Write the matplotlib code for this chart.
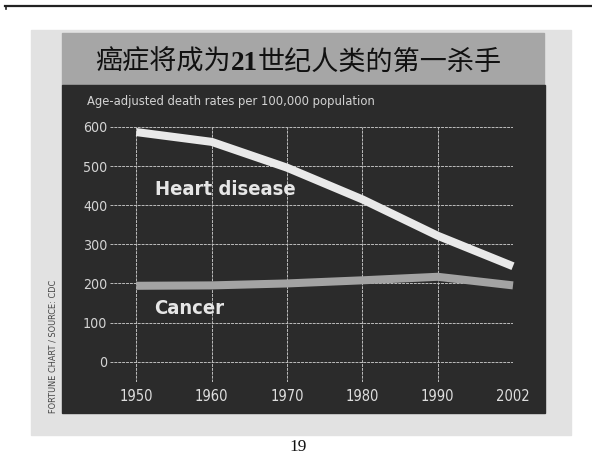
# Cancer vs heart disease death rates
# plot.py
#
##################################

# IMPORT STATEMENTS
##################################
import numpy as np
import matplotlib
matplotlib.use("Agg")
import matplotlib.pyplot as plt
from matplotlib import font_manager
from matplotlib.patches import Rectangle


# DATA
###################################
years  = ['1950', '1960', '1970', '1980', '1990', '2002']
heart  = [587, 562, 496, 415, 322, 244]
cancer = [194, 195, 200, 208, 217, 195]
yticks = [0, 100, 200, 300, 400, 500, 600]

title_a = '癌症将成为'
title_b = '21'
title_c = '世纪人类的第一杀手'
subtitle = 'Age-adjusted death rates per 100,000 population'
credit = 'FORTUNE CHART / SOURCE: CDC'
page_no = '19'

W, H = 592, 457


# function: pickNarrow
# purpose:  finds a condensed sans font that is installed
# return:   (family, stretch)
def pickNarrow():
    fonts = font_manager.fontManager.ttflist
    for f in fonts:
        if f.name == 'Liberation Sans Narrow':
            return f.name, 'normal'
    for fam in ['DejaVu Sans', 'Noto Sans', 'Roboto', 'Open Sans', 'Liberation Sans']:
        for f in fonts:
            if f.name == fam and 'condensed' in str(f.stretch):
                return fam, 'condensed'
    return 'Roboto', 'normal'

NARROW, STRETCH = pickNarrow()


# function: fx / fy
# purpose:  turn pixel coords (top-left origin) into figure fractions
def fx(x):
    return x / W

def fy(y):
    return 1 - y / H


# function: box
# purpose:  draws a filled rectangle given in pixel coords
def box(fig, x0, y0, x1, y1, color):
    fig.patches.append(Rectangle((fx(x0), fy(y1)), fx(x1) - fx(x0), fy(y0) - fy(y1),
                                 transform=fig.transFigure, color=color, zorder=-5))


# MAIN SCRIPT
###################################
fig = plt.figure(figsize=(W / 100, H / 100), dpi=100)
fig.patch.set_facecolor('white')

# page rule on top
fig.add_artist(plt.Line2D([fx(5), fx(592)], [fy(5.5), fy(5.5)], transform=fig.transFigure,
                          color='#222222', lw=1.6))
fig.add_artist(plt.Line2D([fx(5.5), fx(5.5)], [fy(5.5), fy(9)], transform=fig.transFigure,
                          color='#222222', lw=1.2))

# scanned page, title bar, dark chart panel
box(fig, 31, 30, 571, 435, '#e2e2e2')
box(fig, 62, 33, 544, 85, '#a6a6a6')
box(fig, 62, 85, 545, 413, '#2b2b2b')

# title: CJK pieces with a bold serif "21"
fig.canvas.draw()
r = fig.canvas.get_renderer()
x = 95
base = fy(70)
for s, fam, wt in [(title_a, ['Noto Sans CJK SC'], 'normal'),
                   (title_b, ['Liberation Serif'], 'bold'),
                   (title_c, ['Noto Sans CJK SC'], 'normal')]:
    t = fig.text(fx(x), base, s, family=fam, weight=wt, fontsize=19.5,
                 color='#111111', ha='left', va='baseline')
    x = x + t.get_window_extent(renderer=r).width

fig.text(fx(87), fy(101), subtitle, family=NARROW, stretch=STRETCH, fontsize=9.3,
         color='#d4d4d4', ha='left', va='center')
fig.text(fx(53), fy(413), credit, family=NARROW, stretch=STRETCH, fontsize=6.6,
         color='#444444', rotation=90, ha='center', va='bottom')
fig.text(fx(298), fy(447), page_no, family=['Liberation Serif'], fontsize=12.5,
         color='#111111', ha='center', va='center')

# chart axes
ax = fig.add_axes([fx(110), fy(382), fx(513) - fx(110), fy(127) - fy(382)])
ax.set_facecolor('none')
xs = np.arange(len(years))

ax.plot(xs, cancer, color='#a3a3a3', lw=5.8, solid_capstyle='butt', zorder=3, clip_on=False)
ax.plot(xs, heart, color='#e9e9e9', lw=5.8, solid_capstyle='butt', zorder=4, clip_on=False)

ax.set_xlim(-0.35, 5)
ax.set_ylim(-52, 600)
ax.set_xticks(xs)
ax.set_xticklabels(years)
ax.set_yticks(yticks)
ax.grid(True, color='#bdbdbd', lw=0.7, linestyle=(0, (3, 1)), zorder=1)
ax.set_axisbelow(True)
for sp in ax.spines.values():
    sp.set_visible(False)
ax.tick_params(axis='both', length=0)
ax.tick_params(axis='x', pad=5, colors='#dedede', labelsize=10.5)
ax.tick_params(axis='y', pad=2, colors='#d4d4d4', labelsize=10.2)
for lab in ax.get_xticklabels() + ax.get_yticklabels():
    lab.set_family(NARROW)
    lab.set_stretch(STRETCH)

ax.text(0.25, 440, 'Heart disease', family=NARROW, stretch=STRETCH, weight='bold',
        fontsize=14.5, color='#e6e6e6', ha='left', va='center')
ax.text(0.23, 137, 'Cancer', family=NARROW, stretch=STRETCH, weight='bold',
        fontsize=14.5, color='#e6e6e6', ha='left', va='center')

plt.savefig('out.png', dpi=100)
